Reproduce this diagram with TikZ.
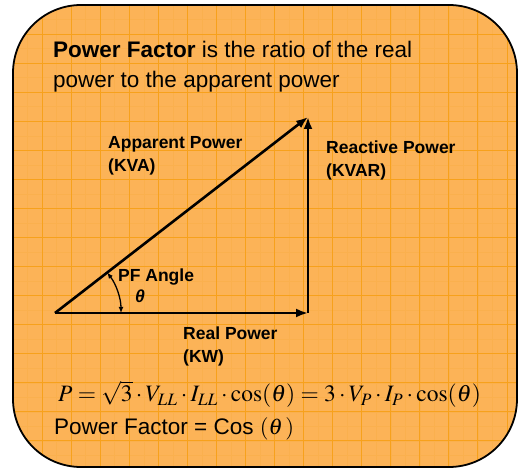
\documentclass[tikz,border=0pt]{standalone}
\usepackage{mathptmx}
\usepackage[no-math]{fontspec}
\setmainfont{Liberation Sans}
\usetikzlibrary{arrows.meta}
\definecolor{panelfill}{HTML}{FCB357}
\definecolor{gridmajor}{HTML}{F7A11C}
\definecolor{gridminor}{HTML}{FAB04E}
\tikzset{
  panel/.style={draw=black, line width=1.8pt, rounded corners=68pt},
  majorline/.style={draw=gridmajor, line width=1pt},
  minorline/.style={draw=gridminor, line width=0.5pt},
  vector/.style={-{Latex[length=12pt, width=9pt]}, line width=2.6pt},
  anglearrow/.style={{Latex[length=6pt, width=5pt]}-{Latex[length=6pt, width=5pt]}, line width=1.3pt},
  lead/.style={anchor=base west, inner sep=0pt, align=left, font=\fontsize{22.5}{30}\selectfont},
  vlabel/.style={anchor=base west, inner sep=0pt, align=left, font=\bfseries\fontsize{17.5}{23}\selectfont},
  eqn/.style={anchor=base west, inner sep=0pt, font=\fontsize{23.5}{30}\selectfont}
}

\begin{document}
\begin{tikzpicture}[x=1pt, y=1pt]
  \useasboundingbox (0,0) rectangle (519,470);

  % graph paper panel
  \begin{scope}
    \clip[rounded corners=68pt] (13,3) rectangle (517,465);
    \fill[panelfill] (13,3) rectangle (517,465);
    \foreach \k in {0,...,35} {
      \draw[minorline] ({13+14.53*\k},0) -- ++(0,470);
      \draw[minorline] (0,{465-14.53*\k}) -- ++(519,0);
    }
    \foreach \k in {1,...,17} {
      \draw[majorline] ({13+29.06*\k},0) -- ++(0,470);
      \draw[majorline] (0,{465-29.06*\k}) -- ++(519,0);
    }
  \end{scope}
  \draw[panel] (13,3) rectangle (517,465);

  % multi-line nodes: base = last line
  \node[lead] (title) at (53,382) {\textbf{Power Factor} is the ratio of the real\\power to the apparent power};

  % power triangle
  \coordinate (o) at (55,157);
  \coordinate (c) at (308,157);
  \coordinate (t) at (308,353);
  \draw[vector] (o) -- (t);
  \draw[vector] (o) -- (c);
  \draw[vector] (c) -- (t);
  \draw[anglearrow] ([shift={(37.8:66)}]o) arc[start angle=37.8, end angle=0, radius=66];

  \node[vlabel] (apparent) at (108,298) {Apparent Power\\(KVA)};
  \node[vlabel] (reactive) at (326,293) {Reactive Power\\(KVAR)};
  \node[vlabel] (real) at (183,107) {Real Power\\(KW)};
  \node[vlabel] (pfangle) at (118,188) {PF Angle};
  \node[vlabel] (theta) at (135,167) {\itshape θ};

  \node[eqn] (formula) at (58,68) {$P=\sqrt{3}\cdot V_{LL}\cdot I_{LL}\cdot\cos(\theta)=3\cdot V_P\cdot I_P\cdot\cos(\theta)$};
  \node[lead] (pfdef) at (54,35) {Power Factor = Cos $(\theta\,)$};
\end{tikzpicture}
\end{document}
